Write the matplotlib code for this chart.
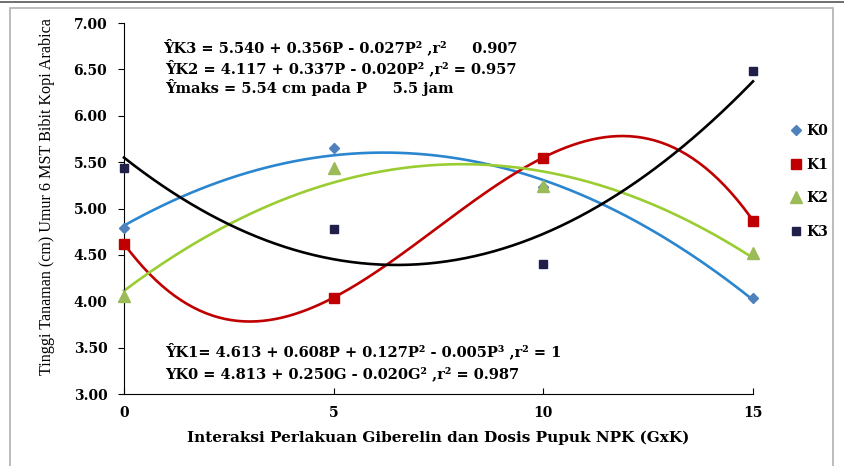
import numpy as np
import matplotlib
matplotlib.use("Agg")
import matplotlib.pyplot as plt
from matplotlib.patches import Rectangle
from matplotlib.lines import Line2D

# data
dosis = [0, 5, 10, 15]
k0 = [4.79, 5.65, 5.23, 4.04]
k1 = [4.62, 4.04, 5.55, 4.87]
k2 = [4.06, 5.44, 5.24, 4.52]
k3 = [5.44, 4.78, 4.40, 6.48]
series = ["K0", "K1", "K2", "K3"]
trend_deg = [2, 3, 2, 2]
yticks = [3.00, 3.50, 4.00, 4.50, 5.00, 5.50, 6.00, 6.50, 7.00]
xticks = [0, 5, 10, 15]

line_colors = ["#2b86d0", "#c00000", "#9acd32", "#000000"]
mk_colors = ["#4f81bd", "#c00000", "#9bbb59", "#1f1f4a"]
markers = ["D", "s", "^", "s"]
msizes = [5, 7, 9, 6]

# the source picture is stretched sideways, a wide serif fits it better
wide = "DejaVu Serif"
plt.rcParams["font.family"] = wide

fig = plt.figure(figsize=(8.44, 4.66), dpi=100)
ax = fig.add_axes([0.1469, 0.1545, 0.7453, 0.7961])

# outer frame like the screenshot
fig.patches.append(Rectangle((10 / 844, -0.01), 823 / 844, 1 - 8 / 466 + 0.01,
                             transform=fig.transFigure, fill=False,
                             edgecolor="#b0b0b0", lw=1.2))
fig.add_artist(Line2D([0, 1], [1 - 1.5 / 466] * 2, transform=fig.transFigure,
                      color="#555555", lw=1.2))

xs = np.linspace(0, 15, 200)
handles = []
for vals, deg, lc, mc, mk, ms, name in zip([k0, k1, k2, k3], trend_deg, line_colors,
                                           mk_colors, markers, msizes, series):
    # polynomial trendline like the spreadsheet one
    coef = np.polyfit(dosis, vals, deg)
    ax.plot(xs, np.polyval(coef, xs), color=lc, lw=1.9, clip_on=False, zorder=2)
    h = ax.plot(dosis, vals, linestyle="none", marker=mk, color=mc, ms=ms,
                clip_on=False, zorder=3, label=name)[0]
    handles.append(h)

ax.set_xlim(0, 15)
ax.set_ylim(3, 7)
ax.set_xticks(xticks)
ax.set_yticks(yticks)
ax.set_yticklabels([f"{v:.2f}" for v in yticks])
ax.spines["top"].set_visible(False)
ax.spines["right"].set_visible(False)
ax.spines["left"].set_linewidth(0.8)
ax.spines["bottom"].set_linewidth(0.8)
ax.tick_params(axis="y", direction="out", length=4, pad=8, labelsize=10)
ax.tick_params(axis="x", direction="in", length=4, pad=8.5, labelsize=10)
for lab in ax.get_xticklabels() + ax.get_yticklabels():
    lab.set_fontweight("bold")

ax.set_ylabel("Tinggi Tanaman (cm) Umur 6 MST Bibit Kopi Arabica",
              fontsize=11.6, family="Liberation Serif")
ax.yaxis.set_label_coords(-0.1224, 0.531)
ax.yaxis.label.set_va("center")
ax.set_xlabel("Interaksi Perlakuan Giberelin dan Dosis Pupuk NPK (GxK)",
              fontsize=11, fontweight="bold")
ax.xaxis.set_label_coords(0.5, -0.1186)
ax.xaxis.label.set_va("center")

leg = fig.legend(handles=handles, loc="upper left", bbox_to_anchor=(0.922, 0.760),
                 frameon=False, prop={"size": 10, "weight": "bold"},
                 labelspacing=1.4, handlelength=0.8, handletextpad=0.3)

eq_kw = dict(transform=fig.transFigure, fontsize=10.5, fontweight="bold",
             ha="left", va="center")
fig.text(163 / 844, 1 - 47 / 466, "ŶK3 = 5.540 + 0.356P - 0.027P² ,r²     0.907", **eq_kw)
fig.text(165 / 844, 1 - 68 / 466, "ŶK2 = 4.117 + 0.337P - 0.020P² ,r² = 0.957", **eq_kw)
fig.text(165 / 844, 1 - 87 / 466, "Ŷmaks = 5.54 cm pada P     5.5 jam", **eq_kw)
fig.text(165 / 844, 1 - 351 / 466, "ŶK1= 4.613 + 0.608P + 0.127P² - 0.005P³ ,r² = 1", **eq_kw)
fig.text(165 / 844, 1 - 374 / 466, "YK0 = 4.813 + 0.250G - 0.020G² ,r² = 0.987", **eq_kw)

fig.savefig("out.png", dpi=100)
